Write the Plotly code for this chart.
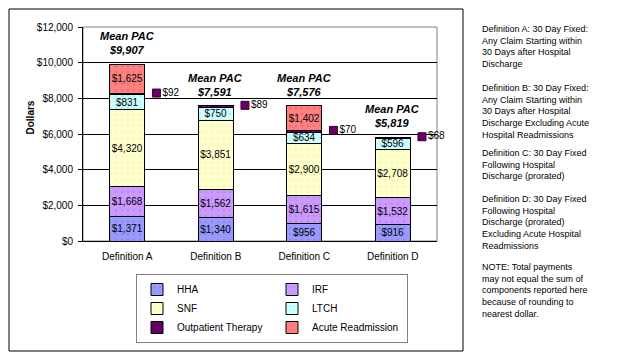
import plotly.graph_objects as go

# chart values
definitions = ['Definition A', 'Definition B', 'Definition C', 'Definition D']
hha = [1371, 1340, 956, 916]
irf = [1668, 1562, 1615, 1532]
snf = [4320, 3851, 2900, 2708]
ltch = [831, 750, 634, 596]
outpatient = [92, 89, 70, 68]
acute = [1625, 0, 1402, 0]
mean_pac = [9907, 7591, 7576, 5819]

notes = [
    'Definition A: 30 Day Fixed:<br>Any Claim Starting within<br>30 Days after Hospital<br>Discharge',
    'Definition B: 30 Day Fixed:<br>Any Claim Starting within<br>30 Days after Hospital<br>Discharge Excluding Acute<br>Hospital Readmissions',
    'Definition C: 30 Day Fixed<br>Following Hospital<br>Discharge (prorated)',
    'Definition D: 30 Day Fixed<br>Following Hospital<br>Discharge (prorated)<br>Excluding Acute Hospital<br>Readmissions',
    'NOTE: Total payments<br>may not equal the sum of<br>components reported here<br>because of rounding to<br>nearest dollar.',
]
note_tops = [22, 81, 146, 192, 260]  # pixel rows of each paragraph (window coords)

FONT = 'Liberation Sans, Arial, sans-serif'
x = list(range(len(definitions)))

# page body adds an 8px margin, so the figure is 8px smaller and everything
# below is measured in window pixels relative to the plot area (83..437, 27..241)
def px(v):
    return (v - 83) / 354


def py(v):
    return (241 - v) / 214


series = [
    ('HHA', hha, '#9999FF', '#6666CC', True),
    ('IRF', irf, '#CC99FF', '#9966CC', True),
    ('SNF', snf, '#FFFFCC', '#E0E0A0', True),
    ('LTCH', ltch, '#CCFFFF', '#99CCCC', True),
    ('Outpatient Therapy', outpatient, '#660066', '#660066', False),
    ('Acute Readmission', acute, '#FF8080', '#CC5050', True),
]

fig = go.Figure()
for name, vals, col, dotcol, labels in series:
    txt = ['${:,}'.format(v) if (labels and v > 0) else '' for v in vals]
    fig.add_trace(go.Bar(
        x=x, y=vals, name=name, width=0.4,
        marker=dict(color=col, line=dict(color='black', width=1),
                    pattern=dict(shape='.', fgcolor=dotcol, size=6, solidity=0.08)),
        text=txt, textposition='inside', insidetextanchor='middle', textangle=0,
        textfont=dict(family=FONT, size=10, color='black'),
        hoverinfo='skip'))

# outpatient therapy labels with a legend key next to each bar
base = [a + b + c + d for a, b, c, d in zip(hha, irf, snf, ltch)]
op_y = [b + o / 2 + 60 for b, o in zip(base, outpatient)]
fig.add_trace(go.Scatter(
    x=[i + 0.33 for i in x], y=op_y, mode='markers+text', cliponaxis=False,
    marker=dict(symbol='square', size=8, color='#660066', line=dict(color='#330033', width=1)),
    text=['${}'.format(v) for v in outpatient], textposition='middle right',
    textfont=dict(family=FONT, size=10, color='black'),
    showlegend=False, hoverinfo='skip'))

for i, tot in enumerate(mean_pac):
    fig.add_annotation(x=i, y=tot, xref='x', yref='y', yanchor='bottom', yshift=6,
                       text='<b><i>Mean PAC<br>${:,}</i></b>'.format(tot), showarrow=False,
                       font=dict(family=FONT, size=11, color='black'))

# y title
fig.add_annotation(x=px(22), y=py(118), xref='paper', yref='paper',
                   text='<b>Dollars</b>', textangle=-90, showarrow=False,
                   font=dict(family=FONT, size=10, color='black'))

for txt, top in zip(notes, note_tops):
    fig.add_annotation(x=px(480), y=py(top), xref='paper', yref='paper',
                       xanchor='left', yanchor='top', align='left', text=txt, showarrow=False,
                       font=dict(family=FONT, size=9, color='black'))

# plot area frame and outer frame (outer frame kept inside the svg)
fig.add_shape(type='rect', xref='paper', yref='paper', x0=0, x1=1, y0=0, y1=1,
              line=dict(color='#808080', width=1), layer='below')
fig.add_shape(type='rect', xref='paper', yref='paper',
              x0=px(9), x1=px(463), y0=py(351), y1=py(9),
              line=dict(color='black', width=1))

fig.update_layout(
    width=616, height=355,
    margin=dict(l=75, r=187, t=19, b=122, autoexpand=False),
    barmode='stack', bargap=0.55,
    plot_bgcolor='white', paper_bgcolor='white',
    font=dict(family=FONT, size=10, color='black'),
    legend=dict(orientation='h', traceorder='normal',
                x=px(136), y=py(274), xanchor='left', yanchor='top',
                entrywidth=90, bordercolor='#808080', borderwidth=1, bgcolor='white',
                font=dict(family=FONT, size=10), itemwidth=30, tracegroupgap=0),
    uniformtext=dict(minsize=10, mode='show'),
    xaxis=dict(range=[-0.5, 3.5], tickvals=x, ticktext=definitions, showgrid=False,
               showline=True, linecolor='black', ticks='', ticklabelstandoff=6,
               tickfont=dict(size=10)),
    yaxis=dict(range=[0, 12000], dtick=2000, tickprefix='$', tickformat=',', showgrid=True,
               gridcolor='black', gridwidth=1, showline=True, linecolor='black',
               ticks='outside', ticklen=4, tickcolor='black', zeroline=False,
               ticklabelstandoff=3, tickfont=dict(size=10)),
)

fig.write_html('out.html')
